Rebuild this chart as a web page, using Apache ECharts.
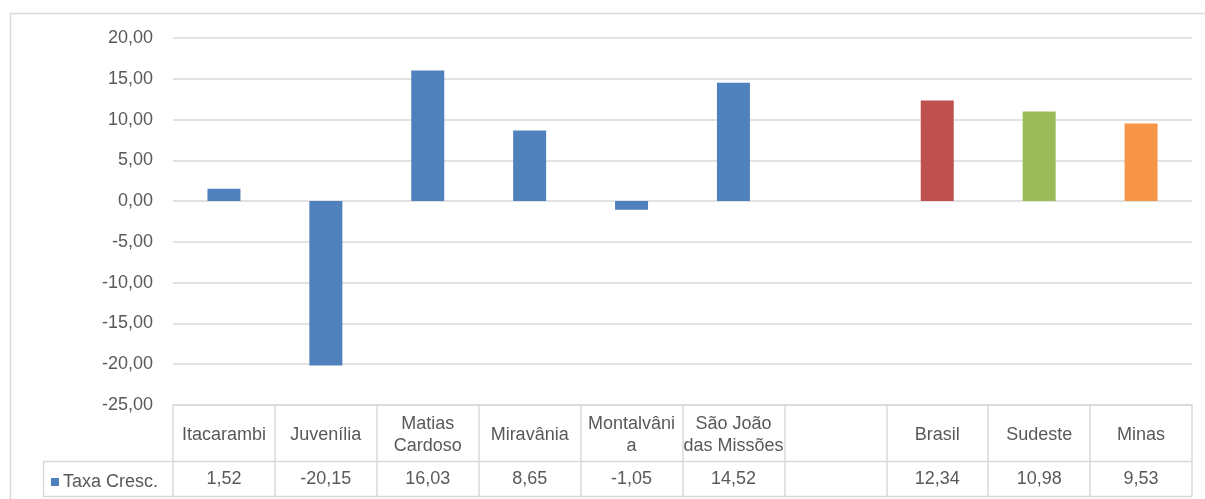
<!DOCTYPE html>
<html>
<head>
<meta charset="utf-8">
<script src="https://cdn.jsdelivr.net/npm/echarts@6/dist/echarts.min.js"></script>
<style>
  html, body { margin: 0; padding: 0; background: #fff; }
  #myChart { width: 1205px; height: 499px; }
</style>
</head>
<body>
<div id="myChart"></div>
<script>
// dados do gráfico
var categories = ['Itacarambi', 'Juvenília', 'Matias\nCardoso', 'Miravânia', 'Montalvâni\na', 'São João\ndas Missões', '', 'Brasil', 'Sudeste', 'Minas'];
var taxaCresc = [1.52, -20.15, 16.03, 8.65, -1.05, 14.52, null, 12.34, 10.98, 9.53];
var barColors = ['#4F81BD', '#4F81BD', '#4F81BD', '#4F81BD', '#4F81BD', '#4F81BD', '#4F81BD', '#C0504D', '#9BBB59', '#F79646'];
var seriesName = 'Taxa Cresc.';
var yTicks = { min: -25, max: 20, step: 5 };

function fmt(v) {
    if (v == null || v == undefined) { return ''; }
    return v.toFixed(2).replace('.', ',');
}

var txtColor = '#595959';
var lineColor = '#D9D9D9';
var font = 'Liberation Sans';
var fSize = 18;

var myChart_1 = echarts.init(document.getElementById('myChart'));

var barData = [];
for (var i = 0; i < taxaCresc.length; i++) {
    barData.push({ value: taxaCresc[i], itemStyle: { color: barColors[i] } });
}
var valueLabels = taxaCresc.map(fmt);

var option = {
    animation: false,
    color: ['#4F81BD'],
    grid: { left: 173, right: 13, top: 38, bottom: 94 },
    legend: {
        left: 46, top: 468,
        icon: 'rect', itemWidth: 8, itemHeight: 8, itemGap: 4,
        textStyle: { color: txtColor, fontSize: fSize, fontFamily: font, padding: [0, 0, 0, -1] },
        data: [seriesName]
    },
    xAxis: [
        {
            type: 'category',
            data: categories,
            position: 'bottom',
            axisLine: { show: true, onZero: false, lineStyle: { color: lineColor, width: 1.5 } },
            axisTick: { show: true, interval: 0, length: 91, lineStyle: { color: lineColor, width: 1.5 } },
            axisLabel: {
                interval: 0, margin: 30, verticalAlign: 'middle', lineHeight: 22,
                color: txtColor, fontSize: fSize, fontFamily: font
            }
        },
        {
            type: 'category',
            data: valueLabels,
            position: 'bottom',
            axisLine: { show: false },
            axisTick: { show: false },
            axisLabel: {
                interval: 0, margin: 74, verticalAlign: 'middle',
                color: txtColor, fontSize: fSize, fontFamily: font
            }
        }
    ],
    yAxis: {
        type: 'value',
        min: yTicks.min, max: yTicks.max, interval: yTicks.step,
        axisLine: { show: false },
        axisTick: { show: false },
        splitLine: { show: true, lineStyle: { color: lineColor, width: 1.5 } },
        axisLabel: {
            margin: 20, color: txtColor, fontSize: fSize, fontFamily: font,
            formatter: function (v) { return fmt(v); }
        }
    },
    series: [
        {
            name: seriesName, type: 'bar', barWidth: 33,
            xAxisIndex: 0,
            data: barData
        }
    ],
    graphic: [
        // borda externa
        { type: 'rect', shape: { x: 10.5, y: 13.5, width: 1210, height: 500 }, style: { fill: 'none', stroke: lineColor, lineWidth: 1.5 }, silent: true },
        // linhas da tabela de dados
        { type: 'line', shape: { x1: 43, y1: 461.5, x2: 1192, y2: 461.5 }, style: { stroke: lineColor, lineWidth: 1.5 }, silent: true },
        { type: 'line', shape: { x1: 43, y1: 496.5, x2: 1192, y2: 496.5 }, style: { stroke: lineColor, lineWidth: 1.5 }, silent: true },
        { type: 'line', shape: { x1: 43.5, y1: 461, x2: 43.5, y2: 497 }, style: { stroke: lineColor, lineWidth: 1.5 }, silent: true }
    ]
};

myChart_1.setOption(option);
</script>
</body>
</html>
